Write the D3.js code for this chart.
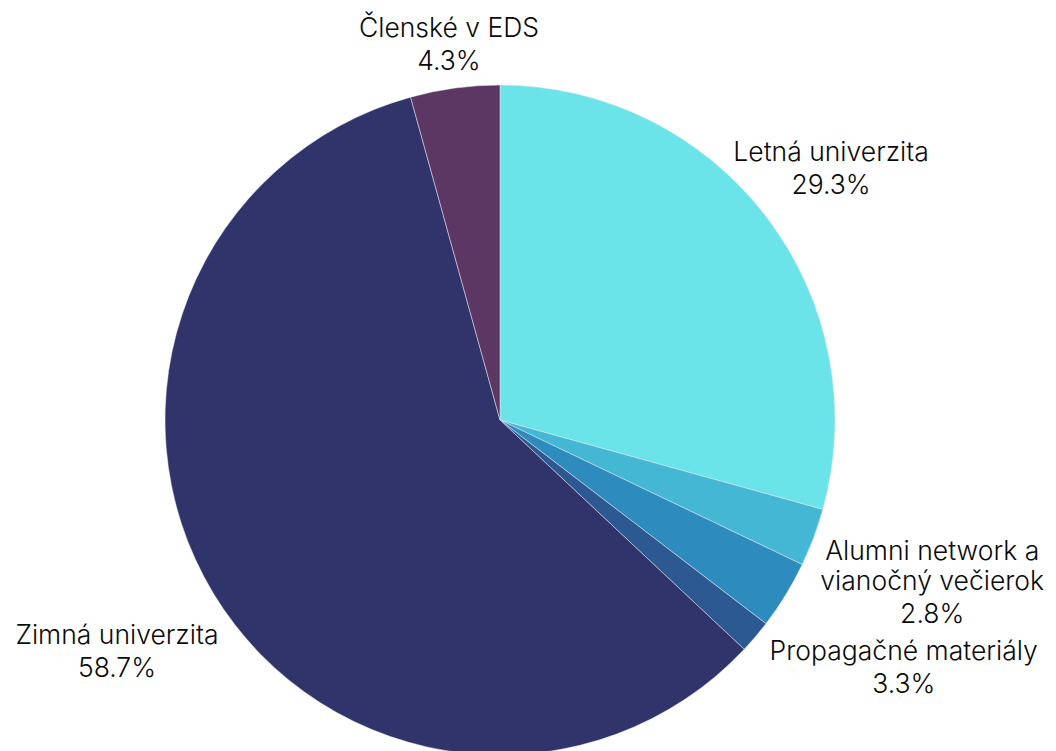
<!DOCTYPE html>
<html>
<head>
<meta charset="utf-8">
<script src="https://cdn.jsdelivr.net/npm/d3@7"></script>
<style>
  html, body { margin: 0; padding: 0; background: #fff; }
  svg { display: block; }
  text { font-family: Inter, "Noto Sans", sans-serif; fill: #0a0a0a; }
</style>
</head>
<body>
<svg id="chart" width="1056" height="751"></svg>
<script>
(function(){
'use strict';

// slice order, clockwise from 12 o'clock
const categories = ['Letná univerzita', 'Alumni network a\nvianočný večierok', 'Propagačné materiály', '', 'Zimná univerzita', 'Členské v EDS'];
const shares = [29.3, 2.8, 3.3, 1.6, 58.7, 4.3];
const colors = ['#6ae4e8', '#44b7d4', '#2e8bbd', '#2d5993', '#30346b', '#5c3764'];

const width = 1056, height = 751;
const cx = 500, cy = 420, radius = 335;
const labelGap = 9, lineHeight = 30, valueGap = 33;

const svg = d3.select('#chart');
const g = svg.append('g').attr('transform', 'translate(' + cx + ',' + cy + ')');

const data = categories.map(function(c, i) { return {name: c, value: shares[i], color: colors[i]}; });

const pie = d3.pie().sort(null).value(function(d) { return d.value; });
const arc = d3.arc().innerRadius(0).outerRadius(radius);
const arcs = pie(data);

g.selectAll('path.slice').data(arcs).enter().append('path')
    .attr('class', 'slice')
    .attr('d', arc)
    .attr('fill', function(d) { return d.data.color; })
    .attr('stroke', '#e8e8f0')
    .attr('stroke-width', 0.5);

// labels sit on the mid-angle ray, pushed out until every line clears the pie
const labels = g.selectAll('g.label').data(arcs.filter(function(d) { return d.data.name; }))
    .enter().append('g').attr('class', 'label');

labels.each(function(d) {
    const lg = d3.select(this);
    const names = d.data.name.split('\n');
    const lines = names.concat([d.data.value.toFixed(1) + '%']);
    const ys = lines.map(function(l, i) { return i < names.length ? i * lineHeight : (names.length - 1) * lineHeight + valueGap; });
    const shift = ys[ys.length - 1] / 2;
    const boxes = lines.map(function(line, i) {
        const t = lg.append('text')
            .attr('text-anchor', 'middle')
            .attr('dy', '0.35em')
            .attr('y', ys[i] - shift)
            .style('font-size', '26.5px')
            .style('font-weight', 300)
            .text(line);
        return t.node().getBBox();
    });

    const mid = (d.startAngle + d.endAngle) / 2,
        ux = Math.sin(mid), uy = -Math.cos(mid);

    function clearance(r) {
        const px = ux * r, py = uy * r;
        return d3.min(boxes, function(b) {
            const x0 = px + b.x, x1 = x0 + b.width, y0 = py + b.y, y1 = y0 + b.height;
            const nx = Math.max(x0, Math.min(0, x1)), ny = Math.max(y0, Math.min(0, y1));
            return Math.sqrt(nx * nx + ny * ny);
        });
    }

    let r = radius;
    while (clearance(r) < radius + labelGap && r < radius + 400) r += 0.5;
    lg.attr('transform', 'translate(' + (ux * r) + ',' + (uy * r) + ')');
});
})();
</script>
</body>
</html>
